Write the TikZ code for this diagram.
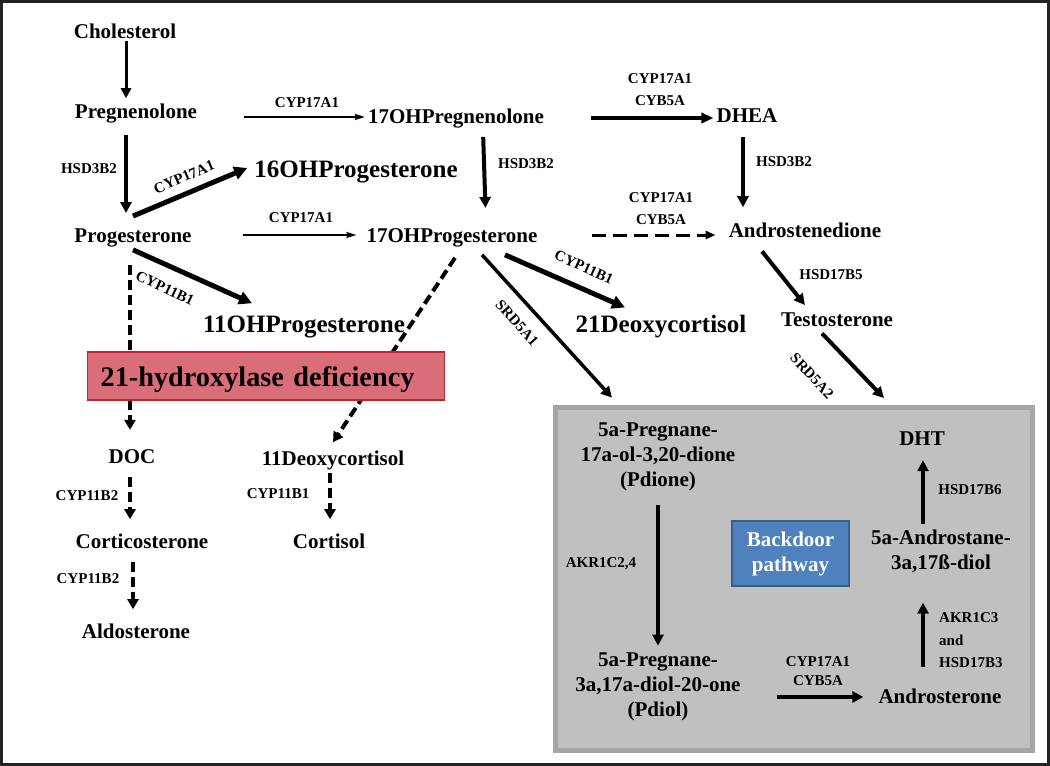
\documentclass[tikz,border=0pt]{standalone}
\usepackage{fontspec}
\setmainfont{Liberation Serif}
\usetikzlibrary{arrows.meta}
\definecolor{boxgray}{HTML}{C0C0C0}
\definecolor{boxedge}{HTML}{A5A5A5}
\definecolor{defred}{HTML}{D96D78}
\definecolor{defedge}{HTML}{C8202C}
\definecolor{bdblue}{HTML}{4F81BD}
\definecolor{bdedge}{HTML}{385D8A}
\definecolor{framec}{HTML}{222222}
\tikzset{
 mol/.style={font=\fontsize{21}{25}\selectfont\bfseries, inner sep=3pt, anchor=base},
 bigmol/.style={font=\fontsize{25}{29}\selectfont\bfseries, inner sep=3pt, anchor=base},
 multi/.style={font=\fontsize{21}{25}\selectfont\bfseries, inner sep=3pt, align=center},
 enz/.style={font=\fontsize{15}{19}\selectfont\bfseries, inner sep=1pt, anchor=base},
 renz/.style={font=\fontsize{15}{19}\selectfont\bfseries, inner sep=1pt, anchor=center},
 thinarr/.style={line width=1.8pt, -{Stealth[length=10pt,width=6pt,inset=1pt]}},
 solidarr/.style={line width=4pt, -{Triangle[length=11pt,width=11pt]}},
 heavyarr/.style={line width=5pt, -{Triangle[length=13pt,width=13pt]}},
 dasharr/.style={line width=4pt, dash pattern=on 10pt off 5pt, -{Triangle[length=10pt,width=11pt]}},
 ldasharr/.style={line width=3pt, dash pattern=on 14pt off 7pt, -{Triangle[length=10pt,width=8pt]}},
}
\begin{document}
\begin{tikzpicture}[x=1pt,y=-1pt]
\useasboundingbox (0,0) rectangle (1050,766);
% backdoor container
\node[fill=boxgray, draw=boxedge, line width=5pt, minimum width=477pt, minimum height=343pt, inner sep=0pt] (backbox) at (793.5,578.5) {};
% molecules
\node[mol] (chol) at (125,38) {Cholesterol};
\node[mol] (preg) at (136,118) {Pregnenolone};
\node[mol] (prog) at (133,242) {Progesterone};
\node[bigmol] (ohp16) at (356,177) {16OHProgesterone};
\node[mol] (ohpreg) at (456,123) {17OHPregnenolone};
\node[mol] (ohprog) at (452,242) {17OHProgesterone};
\node[mol] (dhea) at (747,122) {DHEA};
\node[mol] (andro) at (805,237) {Androstenedione};
\node[mol] (testo) at (837,326) {Testosterone};
\node[bigmol] (deoxy21) at (661,332) {21Deoxycortisol};
\node[bigmol] (ohp11) at (304,332) {11OHProgesterone};
\node[mol] (doc) at (132,463) {DOC};
\node[mol] (deoxy11) at (333,465) {11Deoxycortisol};
\node[mol] (cortico) at (142,548) {Corticosterone};
\node[mol] (cortisol) at (329,548) {Cortisol};
\node[mol] (aldo) at (136,638) {Aldosterone};
\node[multi] (pdione) at (658,457) {5a-Pregnane-\\17a-ol-3,20-dione\\(Pdione)};
\node[multi] (pdiol) at (658,687) {5a-Pregnane-\\3a,17a-diol-20-one\\(Pdiol)};
\node[mol] (androst) at (940,703) {Androsterone};
\node[multi] (adiol) at (941,551) {5a-Androstane-\\3a,17ß-diol};
\node[mol] (dht) at (922,445) {DHT};
\node[multi, fill=bdblue, draw=bdedge, line width=1.2pt, text=white, minimum width=117pt, minimum height=65pt] (bdoor) at (790.5,553.5) {Backdoor\\pathway};
% enzyme labels
\node[enz] (e1) at (89,173) {HSD3B2};
\node[enz] (e2) at (307,107) {CYP17A1};
\node[enz] (e3) at (301,222) {CYP17A1};
\node[renz, rotate=23] (e4) at (184,177) {CYP17A1};
\node[renz, rotate=-25] (e5) at (165,288) {CYP11B1};
\node[enz] (e6) at (526,168) {HSD3B2};
\node[renz, align=center, font=\fontsize{15}{22}\selectfont\bfseries] (e7) at (660,90) {CYP17A1\\CYB5A};
\node[enz] (e8) at (784,166) {HSD3B2};
\node[renz, align=center, font=\fontsize{15}{22}\selectfont\bfseries] (e9) at (661,209) {CYP17A1\\CYB5A};
\node[enz] (e10) at (831,279) {HSD17B5};
\node[renz, rotate=-24] (e11) at (584,267) {CYP11B1};
\node[renz, rotate=-48] (e12) at (517,323) {SRD5A1};
\node[renz, rotate=-47] (e13) at (812,376) {SRD5A2};
\node[enz] (e14) at (87,500) {CYP11B2};
\node[enz] (e15) at (88,583) {CYP11B2};
\node[enz] (e16) at (278,498) {CYP11B1};
\node[enz] (e17) at (601,567) {AKR1C2,4};
\node[renz, align=center, font=\fontsize{15}{19}\selectfont\bfseries] (e18) at (818,671.5) {CYP17A1\\CYB5A};
\node[renz, align=left, anchor=west, font=\fontsize{15}{22.5}\selectfont\bfseries] (e19) at (938,640.5) {AKR1C3\\and\\HSD17B3};
\node[enz] (e20) at (970,494) {HSD17B6};
% connectors
\draw[line width=3pt, -{Triangle[length=10pt,width=10pt]}, shorten >=2pt] ([xshift=1pt]chol.south) -- ([xshift=1pt]chol.south |- preg.north);
\draw[solidarr, shorten <=9pt, shorten >=12pt] ([xshift=-10pt]preg.south) -- ([xshift=-10pt]preg.south |- prog.north);
\draw[thinarr] ([xshift=44pt,yshift=1pt]preg.base east) -- ([yshift=6pt]ohpreg.base west);
\draw[heavyarr] ([yshift=9pt]prog.north) -- ([xshift=-4pt,yshift=9pt]ohp16.base west);
\draw[thinarr] ([xshift=48pt,yshift=7pt]prog.base east) -- ([xshift=-7pt,yshift=7pt]ohprog.base west);
\draw[heavyarr] (prog.south) -- ([xshift=-52pt,yshift=9pt]ohp11.north);
\draw[dasharr, shorten <=15pt, shorten >=16pt] ([xshift=-3pt]prog.south) -- ([xshift=-3pt]prog.south |- doc.north);
\draw[solidarr, shorten <=6pt, shorten >=17pt] ([xshift=27pt]ohpreg.south) -- ([xshift=34pt]ohprog.north);
\draw[solidarr, -{Triangle[length=12pt,width=10pt]}] ([xshift=44pt,yshift=5pt]ohpreg.base east) -- ([yshift=4pt]dhea.base west);
\draw[solidarr, shorten <=12pt, shorten >=12pt] ([xshift=-4pt]dhea.south) -- ([xshift=-4pt]dhea.south |- andro.north);
\draw[ldasharr] ([xshift=51pt,yshift=7pt]ohprog.base east) -- ([xshift=-10pt,yshift=2pt]andro.base west);
\draw[solidarr] ([xshift=-43pt,yshift=-11pt]andro.south) -- ([xshift=-32pt,yshift=4pt]testo.north);
\draw[solidarr] ([xshift=-15pt,yshift=-4pt]testo.south) -- ([xshift=-38pt,yshift=30pt]dht.north);
\draw[heavyarr] ([xshift=53pt,yshift=-5pt]ohprog.south) -- ([xshift=-36pt,yshift=4pt]deoxy21.north);
\draw[solidarr, line width=3.5pt] ([xshift=30pt,yshift=-5pt]ohprog.south) -- ([xshift=-46pt,yshift=22pt]pdione.north);
\draw[dasharr] ([xshift=3pt,yshift=-8pt]ohprog.south) -- ([yshift=5pt]deoxy11.north);
\draw[dasharr, shorten <=11pt, shorten >=11pt] ([xshift=-2pt]doc.south) -- ([xshift=-2pt]doc.south |- cortico.north);
\draw[dasharr, shorten <=11pt, shorten >=11pt] ([xshift=-9pt]cortico.south) -- ([xshift=-9pt]cortico.south |- aldo.north);
\draw[dasharr, shorten >=11pt] ([xshift=-3pt]deoxy11.south) -- ([xshift=-3pt]deoxy11.south |- cortisol.north);
\draw[solidarr, shorten <=11pt, shorten >=4pt] (pdione.south) -- (pdione.south |- pdiol.north);
\draw[solidarr] ([xshift=33pt,yshift=-10pt]pdiol.east) -- ([xshift=-12pt,yshift=6pt]androst.base west);
\draw[solidarr] ([xshift=-17pt,yshift=18pt]androst.north) -- ([xshift=-18pt,yshift=-27pt]adiol.south);
\draw[solidarr, shorten <=2pt, shorten >=12pt] ([xshift=-18pt]adiol.north) -- ([xshift=-18pt]adiol.north |- dht.south);
% deficiency box (over the dashed lines)
\node[fill=defred, draw=defedge, line width=1.2pt, minimum width=357pt, minimum height=48pt, inner xsep=13pt, text width=331pt, align=left, anchor=west, font=\fontsize{28.3}{32}\selectfont\bfseries, text height=21pt, text depth=1pt] (defbox) at (87,376) {21-hydroxylase deficiency};
% outer frame
\draw[line width=3pt, draw=framec] (1.5,1.5) rectangle (1048.5,764.5);
\end{tikzpicture}
\end{document}
